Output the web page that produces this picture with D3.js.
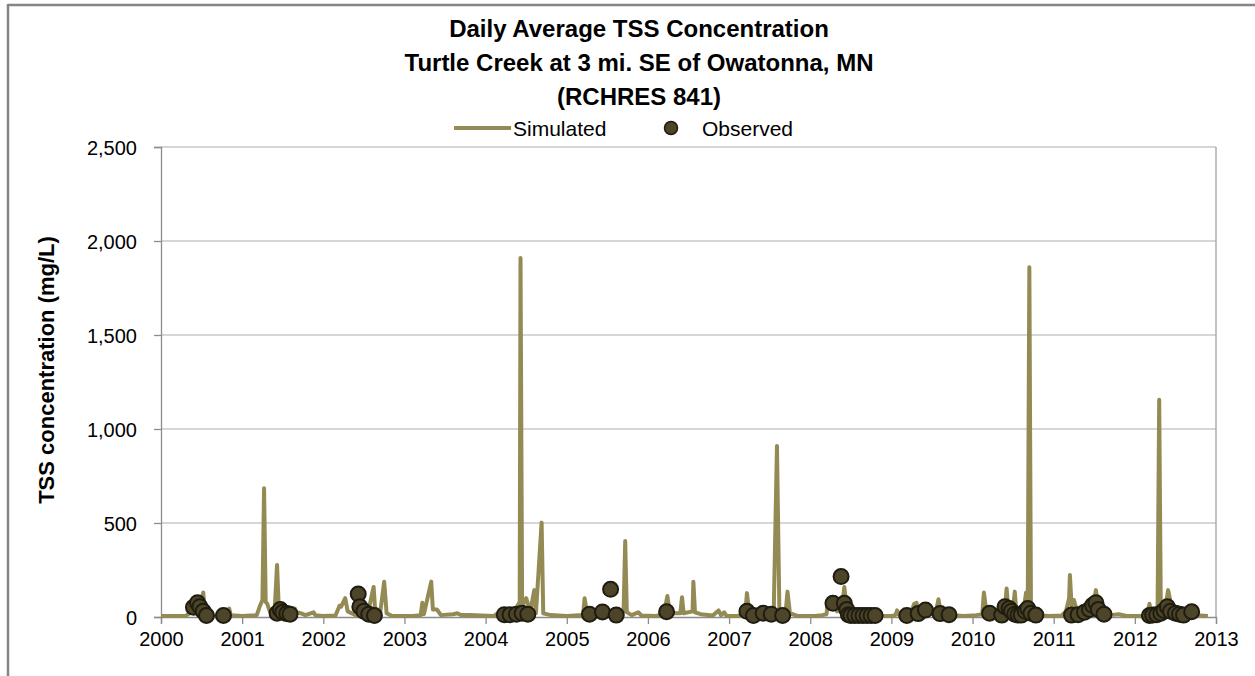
<!DOCTYPE html>
<html><head><meta charset="utf-8">
<script src="https://cdn.jsdelivr.net/npm/d3@7"></script>
<style>
html,body{margin:0;padding:0;background:#fff;}
svg{display:block;font-family:"Liberation Sans",Arial,sans-serif;}
</style></head>
<body>
<svg id="chart" width="1255" height="676"></svg>
<script>
const titleLines = ["Daily Average TSS Concentration","Turtle Creek at 3 mi. SE of Owatonna, MN","(RCHRES 841)"];
const yTicks = [0,500,1000,1500,2000,2500];
const xTicks = [2000,2001,2002,2003,2004,2005,2006,2007,2008,2009,2010,2011,2012,2013];
const simDates = [
2000.00,2000.30,2000.35,2000.40,2000.45,2000.50,2000.52,2000.54,2000.58,2000.65,2000.80,2000.84,2000.86,
2001.00,2001.18,2001.22,2001.25,2001.27,2001.29,2001.31,2001.34,2001.40,2001.43,2001.45,2001.50,2001.55,2001.60,2001.65,2001.67,2001.72,2001.78,2001.88,2001.90,
2002.00,2002.15,2002.20,2002.22,2002.27,2002.30,2002.40,2002.55,2002.62,2002.64,2002.70,2002.75,2002.78,2002.85,
2003.10,2003.20,2003.22,2003.24,2003.33,2003.35,2003.40,2003.45,2003.60,2003.65,2003.70,2003.80,
2004.10,2004.15,2004.30,2004.38,2004.42,2004.43,2004.45,2004.50,2004.55,2004.60,2004.62,2004.69,2004.71,2004.80,
2005.00,2005.20,2005.22,2005.25,2005.40,2005.60,2005.70,2005.72,2005.74,2005.80,2005.88,2005.92,
2006.10,2006.20,2006.24,2006.27,2006.40,2006.42,2006.44,2006.55,2006.56,2006.58,2006.65,2006.80,2006.87,2006.90,2006.94,2006.97,
2007.10,2007.20,2007.22,2007.25,2007.40,2007.55,2007.59,2007.62,2007.70,2007.72,2007.75,2007.85,
2008.05,2008.15,2008.20,2008.22,2008.30,2008.33,2008.40,2008.42,2008.45,2008.55,2008.80,
2009.00,2009.05,2009.07,2009.10,2009.25,2009.28,2009.31,2009.35,2009.55,2009.58,2009.61,2009.75,2009.90,
2010.05,2010.12,2010.14,2010.17,2010.30,2010.35,2010.40,2010.42,2010.44,2010.50,2010.52,2010.54,2010.63,2010.66,2010.68,2010.70,2010.72,2010.80,2010.95,
2011.10,2011.15,2011.19,2011.20,2011.22,2011.25,2011.28,2011.40,2011.45,2011.50,2011.52,2011.55,2011.62,2011.70,2011.80,2011.90,
2012.10,2012.16,2012.18,2012.20,2012.28,2012.30,2012.32,2012.38,2012.41,2012.44,2012.50,2012.60,2012.75,2012.90
];
const simValues = [
5,5,20,40,60,50,130,40,15,8,8,45,10,
5,10,60,90,685,80,70,30,30,277,60,35,20,30,45,25,20,10,25,10,
5,8,60,55,100,30,10,20,160,30,20,188,20,5,
5,10,76,15,188,40,40,10,15,20,10,10,
5,20,25,50,80,1910,60,100,30,143,20,502,20,10,
5,10,100,20,15,10,30,404,25,10,25,8,
5,20,112,20,20,105,20,30,188,25,15,8,35,10,25,5,
5,20,127,20,15,20,910,30,40,135,20,5,
5,10,15,80,80,30,80,160,40,15,5,
5,10,35,8,30,70,75,20,30,94,20,10,5,
10,15,130,30,30,60,50,152,40,40,135,30,40,130,40,1860,30,10,5,
8,30,100,223,60,90,40,30,60,90,143,50,20,10,15,5,
5,20,70,15,30,1155,40,60,143,80,50,20,10,5
];
const obsDates = [
2000.40,2000.45,2000.48,2000.52,2000.56,2000.77,
2001.43,2001.47,2001.50,2001.55,2001.59,
2002.43,2002.45,2002.50,2002.56,2002.63,
2004.23,2004.30,2004.38,2004.45,2004.52,
2005.28,2005.44,2005.54,2005.61,
2006.23,
2007.22,2007.30,2007.42,2007.52,2007.66,
2008.28,2008.38,2008.42,2008.45,2008.47,2008.50,2008.55,2008.60,2008.65,2008.70,2008.75,2008.80,
2009.19,2009.33,2009.42,2009.60,2009.71,
2010.21,2010.36,2010.40,2010.45,2010.48,2010.52,2010.56,2010.60,2010.65,2010.68,2010.72,2010.78,
2011.22,2011.30,2011.38,2011.44,2011.48,2011.52,2011.55,2011.62,
2012.18,2012.22,2012.27,2012.32,2012.36,2012.40,2012.44,2012.50,2012.55,2012.60,2012.70
];
const obsValues = [
52,76,55,30,8,8,
20,40,25,18,15,
122,55,30,15,8,
12,12,15,20,15,
15,27,147,10,
28,
30,8,20,15,8,
73,215,73,40,12,8,8,8,8,8,8,8,
8,18,37,18,12,
20,10,55,45,30,15,10,10,30,45,20,10,
10,12,25,40,62,76,40,15,
8,10,12,20,35,55,30,20,15,10,28
];
const seriesNames = ["Simulated","Observed"];

const svg = d3.select("#chart");
const W = 1255, H = 676;
const m = {left:161, right:1216, top:147, bottom:617};
const simColor = "#948a54", obsFill = "#4d4529", obsStroke = "#1f1c10";
const FONT = "'Liberation Sans',Arial,sans-serif";

// outer frame
svg.append("line").attr("x1",8).attr("x2",W).attr("y1",5).attr("y2",5).attr("stroke","#858585").attr("stroke-width",2.5);
svg.append("line").attr("x1",8).attr("x2",8).attr("y1",4).attr("y2",H).attr("stroke","#858585").attr("stroke-width",2.5);

const x = d3.scaleLinear().domain([2000,2013]).range([m.left,m.right]);
const y = d3.scaleLinear().domain([0,2500]).range([m.bottom,m.top]);

// gridlines
svg.append("g").selectAll("line").data(yTicks.filter(d=>d>0)).join("line")
  .attr("x1",m.left).attr("x2",m.right).attr("y1",d=>y(d)).attr("y2",d=>y(d))
  .attr("stroke","#c8c8c8").attr("stroke-width",1.3);
// right border
svg.append("line").attr("x1",m.right).attr("x2",m.right).attr("y1",m.top).attr("y2",m.bottom)
  .attr("stroke","#a0a0a0").attr("stroke-width",1.3);

// axes
const yAxis = svg.append("g").attr("transform",`translate(${m.left},0)`)
  .call(d3.axisLeft(y).tickValues(yTicks).tickFormat(d3.format(",")).tickSize(7).tickPadding(17));
const xAxis = svg.append("g").attr("transform",`translate(0,${m.bottom})`)
  .call(d3.axisBottom(x).tickValues(xTicks).tickFormat(d3.format("d")).tickSize(7).tickPadding(5));
[yAxis,xAxis].forEach(g=>{
  g.select(".domain").attr("stroke","#8c8c8c").attr("stroke-width",1.3);
  g.selectAll(".tick line").attr("stroke","#8c8c8c").attr("stroke-width",1.3);
  g.selectAll("text").attr("fill","#000").style("font-family",FONT).style("font-size","20px");
});
xAxis.selectAll("text").attr("dy","0.85em");
yAxis.selectAll("text").attr("dy","0.35em");

// simulated line
const simData = simDates.map((d,i)=>({t:d,v:simValues[i]}));
svg.append("path").datum(simData)
  .attr("d",d3.line().x(d=>x(d.t)).y(d=>y(d.v)))
  .attr("fill","none").attr("stroke",simColor).attr("stroke-width",4).attr("stroke-linejoin","round");

// observed points
const obsData = obsDates.map((d,i)=>({t:d,v:obsValues[i]}));
svg.append("g").selectAll("circle").data(obsData).join("circle")
  .attr("cx",d=>x(d.t)).attr("cy",d=>y(d.v)).attr("r",7.5)
  .attr("fill",obsFill).attr("stroke",obsStroke).attr("stroke-width",2);

// title
svg.append("g").selectAll("text").data(titleLines).join("text")
  .attr("x",639).attr("y",(d,i)=>37+i*34).attr("text-anchor","middle")
  .style("font-size","24px").style("font-weight","bold").attr("fill","#000").text(d=>d);

// legend
svg.append("line").attr("x1",454).attr("x2",511).attr("y1",128).attr("y2",128).attr("stroke",simColor).attr("stroke-width",4);
svg.append("text").attr("x",513).attr("y",136).style("font-size","21px").text(seriesNames[0]);
svg.append("circle").attr("cx",671).attr("cy",128).attr("r",6.5).attr("fill",obsFill).attr("stroke",obsStroke).attr("stroke-width",1.5);
svg.append("text").attr("x",702).attr("y",136).style("font-size","21px").text(seriesNames[1]);

// y axis title
svg.append("text").attr("transform",`translate(54,${(m.top+m.bottom)/2-12}) rotate(-90)`)
  .attr("text-anchor","middle").style("font-size","22px").style("font-weight","bold").text("TSS concentration (mg/L)");
</script>
</body></html>
